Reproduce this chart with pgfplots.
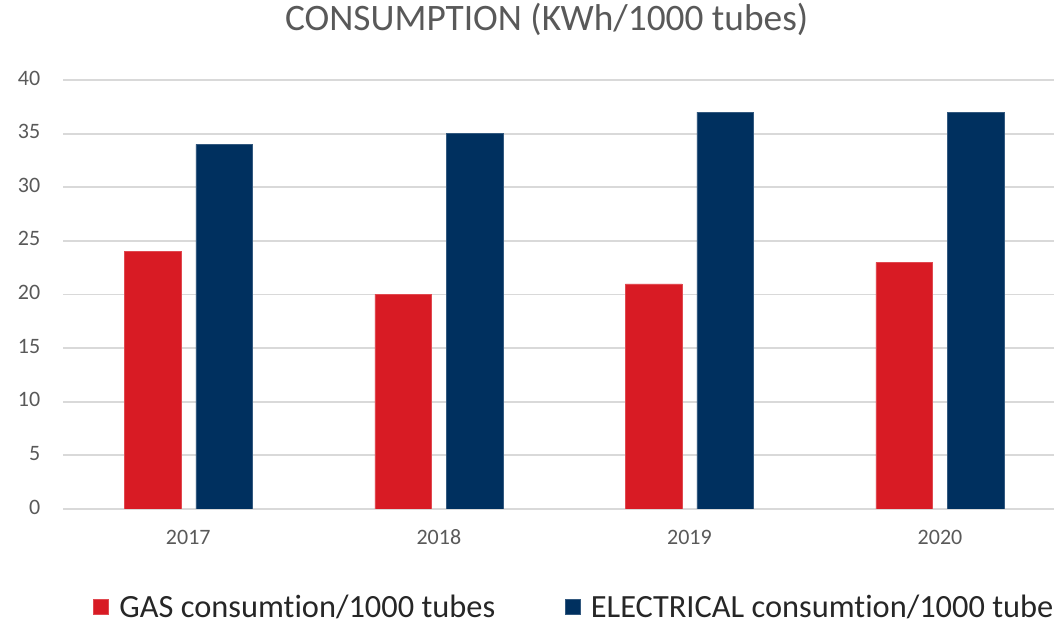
\documentclass[border=0pt]{standalone}
\usepackage{pgfplots}
\pgfplotsset{compat=1.18}
\usepackage{fontspec}
\setmainfont{Carlito}[Ligatures=NoCommon]
\definecolor{gasred}{HTML}{D81B24}
\definecolor{elblue}{HTML}{00305F}
\definecolor{txtgray}{HTML}{595959}
\definecolor{gridgray}{HTML}{D9D9D9}
\begin{document}
\begin{tikzpicture}
% picture is 1054x624 px, 1px = 0.75pt; the chart is cut at the right edge
\useasboundingbox (0,0) rectangle (790.5pt,468pt);
\clip (0,0) rectangle (790.5pt,468pt);
\begin{axis}[
    at={(47.25pt,86.25pt)}, anchor=south west,
    scale only axis, width=743.25pt, height=321.75pt,
    ybar=11.25pt, bar width=42.4pt,
    xmin=-0.5, xmax=3.455, ymin=0, ymax=40,
    xtick={0,1,2,3}, xticklabels={2017,2018,2019,2020},
    ytick={0,5,...,40},
    major tick length=0pt,
    axis line style={draw=none},
    ymajorgrids, grid style={gridgray, line width=1.4pt},
    /pgf/number format/assume math mode=true,
    tick label style={font=\fontsize{16.5}{19}\selectfont, text=txtgray},
    yticklabel style={xshift=-13.5pt},
    xticklabel style={yshift=-10pt},
    typeset ticklabels with strut,
    title={CONSUMPTION (KWh/1000 tubes)},
    title style={at={(axis description cs:0.488,1.1235)}, anchor=center,
        font=\fontsize{28}{32}\selectfont, text=txtgray},
    legend columns=2,
    legend image code/.code={\fill[#1] (0pt,-5.6pt) rectangle (11.25pt,5.6pt);},
    legend style={draw=none, fill=none, inner sep=0pt,
        at={(axis description cs:0.0303,-0.228)}, anchor=west,
        font=\fontsize{24.3}{28}\selectfont, text=black!85,
        /tikz/every even column/.append style={column sep=50pt},
        /tikz/every odd column/.append style={column sep=6pt}},
]
\addplot[fill=gasred, draw=gasred!80!white] coordinates {(0,24) (1,20) (2,21) (3,23)};
\addplot[fill=elblue, draw=elblue!80!white] coordinates {(0,34) (1,35) (2,37) (3,37)};
\legend{GAS consumtion/1000 tubes, ELECTRICAL consumtion/1000 tubes}
\end{axis}
\end{tikzpicture}
\end{document}
